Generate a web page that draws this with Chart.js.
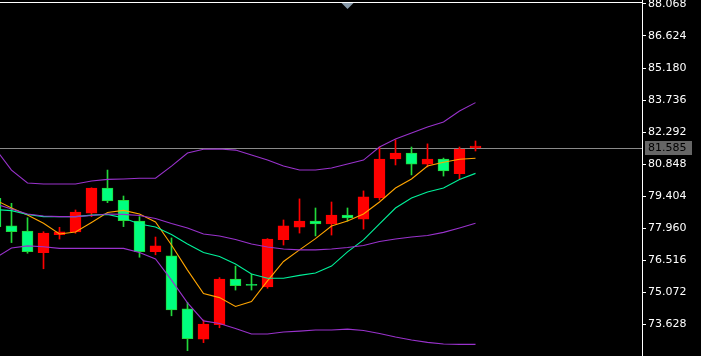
<!DOCTYPE html>
<html><head><meta charset="utf-8">
<script src="https://cdn.jsdelivr.net/npm/chart.js@4/dist/chart.umd.min.js"></script>
<style>html,body{margin:0;padding:0;background:#000;overflow:hidden}canvas{display:block}</style>
</head><body>
<canvas id="c" width="701" height="356"></canvas>
<script>
// bar index (the first bar is only partly visible at the left edge)
const barIndex = [-1,0,1,2,3,4,5,6,7,8,9,10,11,12,13,14,15,16,17,18,19,20,21,22,23,24,25,26,27,28,29];
const openP  = [78.03,77.80,76.90,77.74,77.79,78.69,79.77,79.19,78.30,76.90,77.16,74.28,72.98,73.64,75.66,75.37,75.38,77.47,78.06,78.28,78.15,78.55,78.42,79.37,81.08,81.35,80.85,81.08,80.54,81.53,81.66];
const highP  = [79.46,79.08,78.43,77.80,78.00,78.78,79.78,80.58,79.41,78.48,77.56,77.52,74.62,73.82,75.73,76.25,75.89,77.49,78.33,79.28,78.87,79.14,78.87,79.64,81.62,81.94,81.62,81.76,81.12,81.62,81.89];
const lowP   = [77.88,77.31,76.83,76.13,77.47,77.73,78.48,79.11,78.03,76.65,76.76,74.01,72.44,72.80,73.47,75.17,75.17,75.25,77.20,77.74,77.61,77.65,78.28,77.92,79.23,80.81,80.36,80.72,80.31,80.18,81.44];
const closeP = [79.31,78.06,77.83,76.85,77.67,77.79,78.64,79.77,79.22,78.28,76.90,76.71,74.32,72.96,73.61,75.66,75.42,75.31,77.44,78.01,78.28,78.15,78.55,78.37,79.32,81.08,81.35,80.85,81.08,80.42,81.585];
const bbUpper  = [81.53,80.58,80.00,79.95,79.95,79.95,80.09,80.16,80.18,80.21,80.21,80.76,81.35,81.52,81.53,81.48,81.26,81.03,80.76,80.58,80.58,80.67,80.85,81.03,81.62,81.98,82.25,82.52,82.75,83.24,83.62];
const bbMiddle = [79.05,78.82,78.60,78.51,78.48,78.48,78.53,78.60,78.58,78.53,78.40,78.17,77.97,77.70,77.61,77.45,77.25,77.11,77.02,76.98,76.98,77.02,77.09,77.18,77.36,77.47,77.56,77.63,77.77,77.97,78.18];
const bbLower  = [76.62,77.07,77.16,77.12,77.05,77.05,77.05,77.05,77.05,76.86,76.57,75.62,74.59,73.78,73.66,73.44,73.19,73.19,73.28,73.32,73.37,73.37,73.41,73.35,73.21,73.05,72.92,72.81,72.74,72.72,72.72];
const maSlow   = [78.80,78.75,78.58,78.48,78.48,78.48,78.55,78.58,78.42,78.15,78.01,77.67,77.25,76.86,76.68,76.34,75.89,75.70,75.70,75.83,75.94,76.25,76.89,77.43,78.15,78.87,79.32,79.59,79.77,80.15,80.43];
const maFast   = [79.23,78.87,78.55,78.18,77.70,77.79,78.22,78.67,78.76,78.60,78.24,77.20,76.07,75.01,74.83,74.43,74.65,75.58,76.46,76.98,77.49,78.06,78.28,78.60,79.14,79.77,80.18,80.76,80.93,81.07,81.11];
const tickValues = [88.068,86.624,85.180,83.736,82.292,80.848,79.404,77.960,76.516,75.072,73.628];
const lastPrice = 81.585;

const UP_BODY = '#00FF7F', UP_WICK = '#22D83A', DN = '#FF0000';
const isUp = i => closeP[i] >= openP[i];
const pts = arr => barIndex.map((k,i) => ({x:k, y:arr[i]}));
const lineDs = (arr, color) => ({type:'line', data: pts(arr), borderColor: color, borderWidth: 1.1,
  pointRadius: 0, fill: false, tension: 0, order: 1});

const deco = {
  id: 'deco',
  beforeDraw(chart) {
    const c = chart.ctx; c.save(); c.fillStyle = '#000'; c.fillRect(0,0,chart.width,chart.height); c.restore();
  },
  beforeDatasetsDraw(chart) {
    const c = chart.ctx, a = chart.chartArea, y = Math.round(chart.scales.y.getPixelForValue(lastPrice)) + 0.5;
    c.save(); c.strokeStyle = '#8a8a8a'; c.lineWidth = 1;
    c.beginPath(); c.moveTo(0, y); c.lineTo(a.right, y); c.stroke(); c.restore();
  },
  afterDraw(chart) {
    const c = chart.ctx, a = chart.chartArea, ys = chart.scales.y;
    c.save();
    c.fillStyle = '#ffffff'; c.fillRect(0, 2, Math.round(a.right) + 1, 1);
    c.fillStyle = '#8798a8';
    c.beginPath(); c.moveTo(341.5, 3); c.lineTo(353.5, 3); c.lineTo(347.5, 9); c.closePath(); c.fill();
    const py = Math.round(ys.getPixelForValue(lastPrice));
    c.fillStyle = '#666666'; c.fillRect(645, py - 7, 47, 14);
    c.fillStyle = '#000000'; c.font = '11px "DejaVu Sans"'; c.textBaseline = 'middle'; c.textAlign = 'left';
    c.fillText(lastPrice.toFixed(3), 648, py + 0.5);
    c.restore();
  }
};

new Chart(document.getElementById('c'), {
  type: 'bar',
  data: {
    datasets: [
      lineDs(bbUpper, '#9932CC'),
      lineDs(bbMiddle, '#9932CC'),
      lineDs(bbLower, '#9932CC'),
      lineDs(maSlow, '#00F29A'),
      lineDs(maFast, '#FFA500'),
      {type:'bar', data: barIndex.map((k,i) => ({x:k, y:[openP[i], closeP[i]]})),
        backgroundColor: barIndex.map((k,i) => isUp(i) ? UP_BODY : DN),
        borderColor: barIndex.map((k,i) => isUp(i) ? UP_WICK : DN),
        borderWidth: 1, borderSkipped: false, barThickness: 11, minBarLength: 1, grouped: false, order: 2},
      {type:'bar', data: barIndex.map((k,i) => ({x:k, y:[lowP[i], highP[i]]})),
        backgroundColor: barIndex.map((k,i) => isUp(i) ? UP_WICK : DN),
        borderWidth: 0, barThickness: 1, grouped: false, order: 3}
    ]
  },
  options: {
    responsive: false, animation: false, devicePixelRatio: 1,
    layout: {padding: 0, autoPadding: false},
    plugins: {legend: {display: false}, tooltip: {enabled: false}},
    scales: {
      x: {type: 'linear', display: false, offset: false, min: -0.71875, max: 39.40625, grid: {display: false}},
      y: {type: 'linear', position: 'right', min: 72.197, max: 88.247,
        afterFit(s) { s.width = 59; s.paddingTop = 0; s.paddingBottom = 0; },
        afterBuildTicks(s) { s.ticks = tickValues.map(v => ({value: v})); },
        border: {display: true, color: '#ffffff', width: 1},
        grid: {display: true, drawOnChartArea: false, drawTicks: true, tickLength: 4, tickColor: '#ffffff', color: '#ffffff'},
        ticks: {autoSkip: false, padding: 2, color: '#ffffff', font: {family: 'DejaVu Sans', size: 11},
          callback: v => Number(v).toFixed(3)}
      }
    }
  },
  plugins: [deco]
});
</script>
</body></html>
